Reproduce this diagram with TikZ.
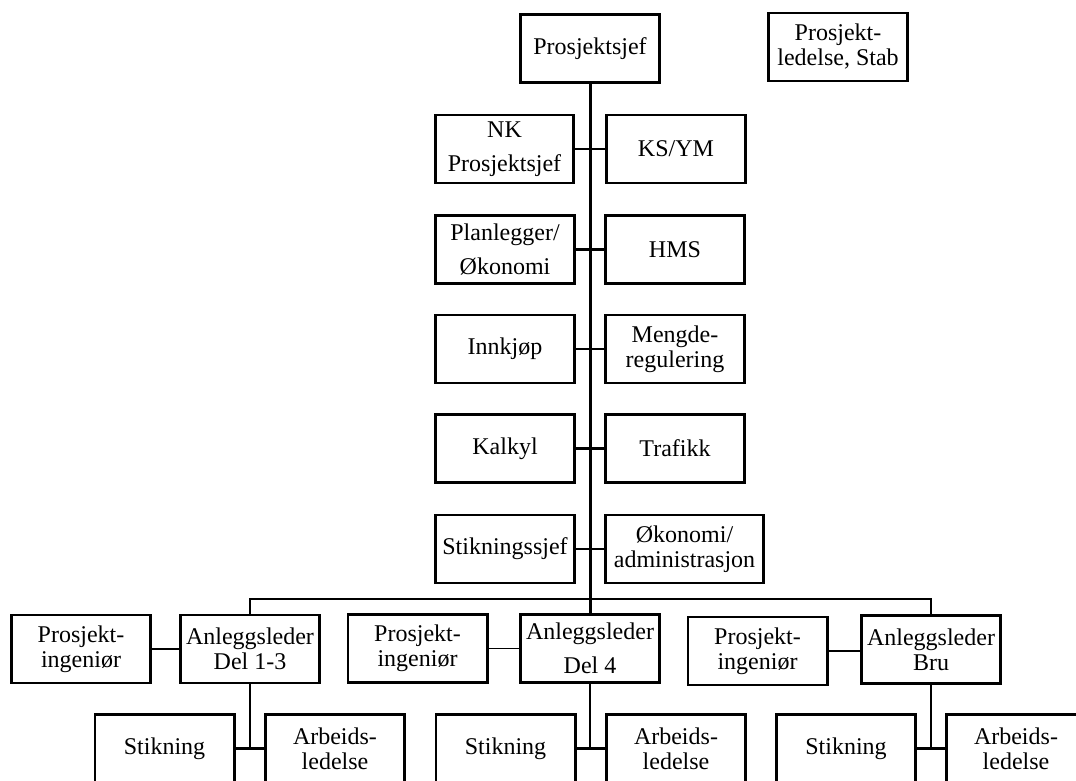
\documentclass[tikz,border=0pt]{standalone}
\usepackage{fontspec}
\setmainfont{Liberation Serif}
\begin{document}
\begin{tikzpicture}[x=1pt,y=-1pt,
  box/.style={draw, line width=2.6pt, minimum width=#1, minimum height=68pt,
    inner sep=0pt, align=center, font=\fontsize{24}{25}\selectfont},
  box/.default=139.4pt,
  link/.style={line width=2.8pt},
  thinlink/.style={line width=1.6pt}]
\useasboundingbox (0,0) rectangle (1076,780);
\clip (0,0) rectangle (1076,780);

% top management
\node[box] (ps)   at (590,48.5) {Prosjektsjef};
\node[box] (stab) at (838,47)   {Prosjekt-\\ledelse, Stab};

% staff functions on both sides of the spine
\node[box=138.4pt] (nk)   at (504.5,149) {NK\\[9pt]Prosjektsjef};
\node[box] (ksym) at (676,149)   {KS/YM};
\node[box] (plan) at (505,249.5) {Planlegger/\\[9pt]Økonomi};
\node[box] (hms)  at (675,249.5) {HMS};
\node[box] (innk) at (505,349)   {Innkjøp};
\node[box] (meng) at (675,349)   {Mengde-\\regulering};
\node[box] (kalk) at (505,448.5) {Kalkyl};
\node[box] (traf) at (675,448.5) {Trafikk};
\node[box] (stsj) at (505,549)   {Stikningssjef};
\node[box=158.4pt] (okad) at (684.5,549) {Økonomi/\\administrasjon};

% site managers and project engineers
\node[box] (pi1) at (81,649)    {Prosjekt-\\ingeniør};
\node[box] (al1) at (250,649)   {Anleggsleder\\Del 1-3};
\node[box] (pi2) at (417.5,648.5) {Prosjekt-\\ingeniør};
\node[box] (al2) at (590,648.5) {Anleggsleder\\[9pt]Del 4};
\node[box] (pi3) at (757.5,651) {Prosjekt-\\ingeniør};
\node[box] (al3) at (931,649.5) {Anleggsleder\\Bru};

% surveying and work supervision
\node[box] (st1) at (164.5,748.5) {Stikning};
\node[box] (ar1) at (335,748.5)   {Arbeids-\\ledelse};
\node[box] (st2) at (505.5,748.5) {Stikning};
\node[box] (ar2) at (676,748.5)   {Arbeids-\\ledelse};
\node[box] (st3) at (846,748.5)   {Stikning};
\node[box] (ar3) at (1016,748.5)  {Arbeids-\\ledelse};

% spine and bus
\coordinate (bus) at (590,599);
\draw[line width=3pt] (ps.south) -- (al2.north);
\draw[link] (al1.north) |- (bus) -| (al3.north);

% side links across the spine
\foreach \a/\b in {nk/ksym, plan/hms, innk/meng, kalk/traf, stsj/okad}
  \draw[link] (\a.east) -- (\a.east -| \b.west);

% project engineer links
\foreach \a/\b in {pi1/al1, pi2/al2, pi3/al3}
  \draw[thinlink] (\a.east) -- (\a.east -| \b.west);

% lower branches
\foreach \m/\s/\w in {al1/st1/ar1, al2/st2/ar2, al3/st3/ar3} {
  \draw[link] (\s.east) -- (\w.west);
  \draw[link] (\m.south) -- (\m.south |- \s.east);
}
\end{tikzpicture}
\end{document}
